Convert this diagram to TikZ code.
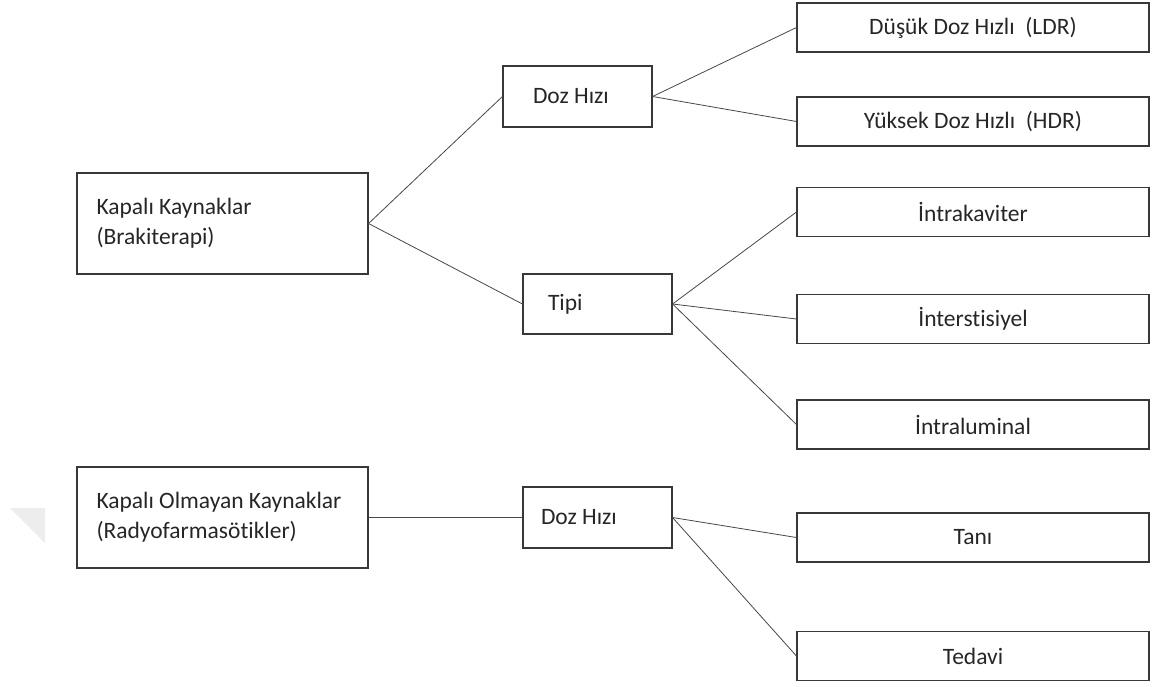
\documentclass[tikz,border=0pt]{standalone}
\usepackage{fontspec}
\setmainfont[Ligatures=NoCommon]{Carlito}
\usepackage{tikz}
\usetikzlibrary{positioning}

\begin{document}
\begin{tikzpicture}[x=1pt,y=-1pt,
    every node/.style={font=\fontsize{23.5}{30}\selectfont, text=black!85},
    box/.style={draw=black!78, line width=1.1pt, inner ysep=0pt},
    leaf/.style={box, minimum width=352pt, minimum height=49pt, align=center},
    hub/.style={box, minimum height=61pt, align=flush left},
    root/.style={box, minimum height=101pt, inner xsep=19.5pt, text width=252pt, align=flush left},
    link/.style={draw=black!72, line width=0.8pt}]
  \useasboundingbox (0,0) rectangle (1155,686);
  % faint mark at the left margin
  \fill[black!7] (10,508) -- (45,508) -- (45,543) -- cycle;
  % the two source groups
  \node[root] (kapali) at (222.5,223.5) {Kapalı Kaynaklar\\(Brakiterapi)};
  \node[root] (acik)   at (222.5,517.5) {Kapalı Olmayan Kaynaklar\\(Radyofarmasötikler)};
  % middle level
  \node[hub, inner xsep=30pt, text width=89pt]  (dozA) at (577.5,96.5) {Doz Hızı};
  \node[hub, inner xsep=25pt, text width=99pt, minimum height=60pt] (tipi) at (597.5,304) {Tipi};
  \node[hub, inner xsep=18pt, text width=113pt] (dozB) at (597.5,517.5) {Doz Hızı};
  % leaves
  \foreach \nm/\yy/\txt in {ldr/27.5/{Düşük Doz Hızlı\ \ (LDR)},
                            hdr/121.5/{Yüksek Doz Hızlı\ \ (HDR)},
                            intrak/212/{İntrakaviter},
                            inters/319/{İnterstisiyel},
                            intral/424.5/{İntraluminal},
                            tani/537.5/{Tanı},
                            tedavi/656/{Tedavi}}{
    \node[leaf] (\nm) at (973,\yy) {\txt};
  }
  % connectors
  \foreach \a/\b in {kapali/dozA, kapali/tipi, dozA/ldr, dozA/hdr,
                     tipi/intrak, tipi/inters, tipi/intral,
                     acik/dozB, dozB/tani, dozB/tedavi}
    \draw[link] (\a.east) -- (\b.west);
\end{tikzpicture}
\end{document}
